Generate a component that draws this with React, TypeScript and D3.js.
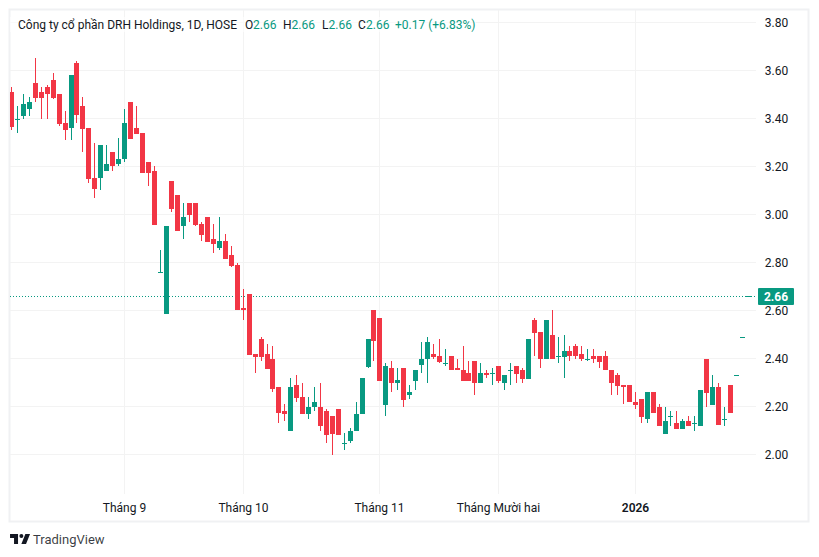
import * as d3 from 'd3';

const opens = [
  3.51, 3.40, 3.41, 3.44, 3.55, 3.51, 3.53, 3.56, 3.50, 3.38, 3.36, 3.63, 3.45, 3.36, 3.15, 3.15, 3.18, 3.26, 3.21, 3.23,
  3.47, 3.36, 3.34, 3.22, 3.18, 2.76, 2.585, 3.14, 3.08, 2.95, 3.05, 3.05, 2.96, 2.99, 2.90, 2.86, 2.89, 2.83, 2.79, 2.61,
  2.67, 2.42, 2.48, 2.42, 2.40, 2.28, 2.18, 2.10, 2.29, 2.24, 2.17, 2.20, 2.20, 2.18, 2.16, 2.19, 2.05, 2.055, 2.10, 2.17,
  2.365, 2.60, 2.57, 2.205, 2.36, 2.30, 2.36, 2.25, 2.305, 2.375, 2.40, 2.42, 2.41, 2.38, 2.41, 2.36, 2.35, 2.34, 2.39, 2.30,
  2.34, 2.34, 2.37, 2.30, 2.35, 2.37, 2.35, 2.315, 2.56, 2.51, 2.40, 2.50, 2.41, 2.405, 2.43, 2.45, 2.42, 2.40, 2.41, 2.41,
  2.41, 2.35, 2.33, 2.29, 2.29, 2.22, 2.23, 2.15, 2.26, 2.20, 2.085, 2.16, 2.13, 2.105, 2.14, 2.13, 2.12, 2.40, 2.205, 2.28,
  2.15, 2.29, 2.33, 2.49, 2.66,
];
const closes = [
  3.365, 3.40, 3.46, 3.47, 3.485, 3.485, 3.50, 3.485, 3.375, 3.35, 3.58, 3.415, 3.355, 3.147, 3.105, 3.29, 3.21, 3.20, 3.23, 3.38,
  3.315, 3.335, 3.175, 3.175, 2.955, 2.76, 2.95, 3.025, 2.93, 2.99, 3.00, 2.955, 2.915, 2.885, 2.875, 2.89, 2.815, 2.785, 2.60, 2.60,
  2.415, 2.405, 2.405, 2.355, 2.275, 2.175, 2.17, 2.28, 2.235, 2.17, 2.20, 2.22, 2.12, 2.08, 2.085, 2.08, 2.05, 2.10, 2.17, 2.32,
  2.48, 2.475, 2.305, 2.37, 2.30, 2.31, 2.226, 2.26, 2.35, 2.40, 2.47, 2.405, 2.385, 2.38, 2.35, 2.35, 2.305, 2.305, 2.30, 2.34,
  2.33, 2.34, 2.305, 2.33, 2.35, 2.335, 2.315, 2.48, 2.505, 2.40, 2.56, 2.40, 2.41, 2.43, 2.41, 2.41, 2.40, 2.40, 2.40, 2.385,
  2.35, 2.30, 2.285, 2.28, 2.22, 2.205, 2.155, 2.26, 2.175, 2.12, 2.14, 2.16, 2.105, 2.14, 2.12, 2.13, 2.27, 2.255, 2.28, 2.125,
  2.15, 2.175, 2.33, 2.49, 2.66,
];
const highs = [
  3.53, 3.45, 3.50, 3.49, 3.65, 3.53, 3.54, 3.59, 3.50, 3.43, 3.58, 3.64, 3.49, 3.36, 3.30, 3.29, 3.29, 3.26, 3.32, 3.44,
  3.47, 3.45, 3.34, 3.22, 3.20, 2.85, 2.95, 3.14, 3.08, 3.05, 3.05, 3.05, 2.97, 2.99, 2.96, 2.99, 2.92, 2.87, 2.80, 2.69,
  2.67, 2.42, 2.49, 2.46, 2.45, 2.28, 2.21, 2.32, 2.33, 2.30, 2.24, 2.28, 2.30, 2.19, 2.16, 2.19, 2.09, 2.11, 2.22, 2.32,
  2.48, 2.60, 2.57, 2.38, 2.39, 2.36, 2.36, 2.29, 2.35, 2.47, 2.49, 2.46, 2.48, 2.44, 2.41, 2.40, 2.45, 2.39, 2.39, 2.38,
  2.35, 2.36, 2.37, 2.33, 2.38, 2.37, 2.36, 2.48, 2.57, 2.51, 2.56, 2.60, 2.49, 2.50, 2.45, 2.46, 2.45, 2.44, 2.44, 2.41,
  2.43, 2.35, 2.34, 2.29, 2.29, 2.26, 2.23, 2.26, 2.26, 2.21, 2.20, 2.18, 2.18, 2.15, 2.16, 2.16, 2.27, 2.40, 2.33, 2.30,
  2.20, 2.29, 2.33, 2.49, 2.66,
];
const lows = [
  3.35, 3.34, 3.40, 3.41, 3.47, 3.40, 3.40, 3.48, 3.37, 3.31, 3.31, 3.38, 3.26, 3.13, 3.07, 3.10, 3.18, 3.18, 3.20, 3.22,
  3.315, 3.335, 3.175, 3.12, 2.955, 2.76, 2.585, 3.01, 2.93, 2.90, 2.97, 2.95, 2.89, 2.885, 2.84, 2.85, 2.815, 2.78, 2.60, 2.56,
  2.415, 2.34, 2.39, 2.355, 2.26, 2.13, 2.14, 2.10, 2.22, 2.17, 2.15, 2.18, 2.10, 2.05, 2.00, 2.08, 2.02, 2.05, 2.10, 2.17,
  2.36, 2.39, 2.305, 2.16, 2.26, 2.27, 2.20, 2.23, 2.27, 2.34, 2.30, 2.40, 2.38, 2.37, 2.35, 2.35, 2.305, 2.305, 2.25, 2.30,
  2.32, 2.29, 2.30, 2.27, 2.29, 2.30, 2.30, 2.315, 2.41, 2.36, 2.40, 2.40, 2.38, 2.32, 2.39, 2.40, 2.39, 2.39, 2.38, 2.36,
  2.35, 2.25, 2.25, 2.21, 2.22, 2.19, 2.13, 2.13, 2.175, 2.12, 2.085, 2.12, 2.105, 2.105, 2.12, 2.10, 2.12, 2.20, 2.205, 2.125,
  2.12, 2.175, 2.33, 2.49, 2.66,
];

const priceTicks = [2.0, 2.2, 2.4, 2.6, 2.8, 3.0, 3.2, 3.4, 3.6, 3.8];
const timeTicks = [
  { index: 19, label: 'Tháng 9' },
  { index: 39, label: 'Tháng 10' },
  { index: 62, label: 'Tháng 11' },
  { index: 82, label: 'Tháng Mười hai' },
  { index: 105, label: '2026', bold: true },
];
const lastPrice = 2.66;
const changeLabel = '+0.17 (+6.83%)';
const ohlc = [
  { key: 'O', keyX: 245, valueX: 253 },
  { key: 'H', keyX: 283, valueX: 291.5 },
  { key: 'L', keyX: 322, valueX: 328.5 },
  { key: 'C', keyX: 358, valueX: 366 },
];

const UP = '#089981';
const DOWN = '#F23645';
const TEXT = '#131722';
const GRID = '#F3F3F3';
const FONT = 'Roboto, "Noto Sans", sans-serif';

const x = d3.scaleLinear().domain([0, 124]).range([11.61, 748.17]);
const y = d3.scaleLinear().domain([2, 3.8]).range([454.5, 22.5]);
const px = (i: number) => Math.floor(x(i));

export default function App() {
  return (
    <svg
      width={819}
      height={557}
      style={{ position: 'absolute', left: 0, top: 0, background: '#fff', fontFamily: FONT }}
    >
      <defs>
        <clipPath id="plot">
          <rect x={10} y={10} width={746} height={484} />
        </clipPath>
      </defs>
      <rect x={9.5} y={9.5} width={799} height={512} fill="none" stroke="#F0F1F3" strokeWidth={2} />

      <g shapeRendering="crispEdges" stroke={GRID}>
        {priceTicks.map((t) => (
          <line key={t} x1={10} x2={756} y1={Math.floor(y(t)) + 0.5} y2={Math.floor(y(t)) + 0.5} />
        ))}
        {timeTicks.map((t) => (
          <line key={t.index} x1={px(t.index) + 0.5} x2={px(t.index) + 0.5} y1={10} y2={494} />
        ))}
      </g>

      {/* legend backdrop, half see-through so the top gridline stays faint behind the text */}
      <rect x={10} y={17} width={466} height={15} fill="#fff" fillOpacity={0.6} />

      <line
        x1={10}
        x2={756}
        y1={Math.floor(y(lastPrice)) + 0.5}
        y2={Math.floor(y(lastPrice)) + 0.5}
        stroke={UP}
        strokeDasharray="1 2"
        shapeRendering="crispEdges"
      />

      <g clipPath="url(#plot)" shapeRendering="crispEdges">
        {opens.map((o, i) => {
          const c = closes[i];
          const color = c >= o ? UP : DOWN;
          const top = Math.round(y(Math.max(o, c)));
          const bottom = Math.round(y(Math.min(o, c)));
          return (
            <g key={i} fill={color}>
              <rect x={px(i)} y={Math.round(y(highs[i]))} width={1} height={Math.max(1, Math.round(y(lows[i])) - Math.round(y(highs[i])))} />
              <rect x={px(i) - 2} y={top} width={5} height={Math.max(1, bottom - top)} />
            </g>
          );
        })}
      </g>

      <g fontSize={12} fill={TEXT} textAnchor="middle">
        {priceTicks.map((t) => (
          <text key={t} x={776.5} y={y(t) + 4.5}>{t.toFixed(2)}</text>
        ))}
        {timeTicks.map((t) => (
          <text key={t.index} x={px(t.index) + 0.5} y={512} fontWeight={t.bold ? 600 : 400}>{t.label}</text>
        ))}
      </g>

      <rect x={758} y={288} width={36} height={17} rx={1} fill={UP} />
      <text x={776} y={301} fontSize={12} fontWeight={700} fill="#fff" textAnchor="middle">{lastPrice.toFixed(2)}</text>

      <g fontSize={12}>
        <text x={18} y={29} fill={TEXT}>Công ty cổ phần DRH Holdings, 1D, HOSE</text>
        {ohlc.map((d) => (
          <g key={d.key}>
            <text x={d.keyX} y={29} fill={TEXT}>{d.key}</text>
            <text x={d.valueX} y={29} fill={UP}>{lastPrice.toFixed(2)}</text>
          </g>
        ))}
        <text x={395} y={29} fill={UP}>{changeLabel}</text>
      </g>

      <path
        transform="translate(8.7,530) scale(0.667)"
        fill={TEXT}
        d="M14 6H2v6h6v9h6V6Zm12 15h-7l6-15h7l-6 15Zm-7-9a3 3 0 1 0 0-6 3 3 0 0 0 0 6Z"
      />
      <text x={33} y={544} fontSize={13} fill={TEXT} fillOpacity={0.85}>TradingView</text>
    </svg>
  );
}
